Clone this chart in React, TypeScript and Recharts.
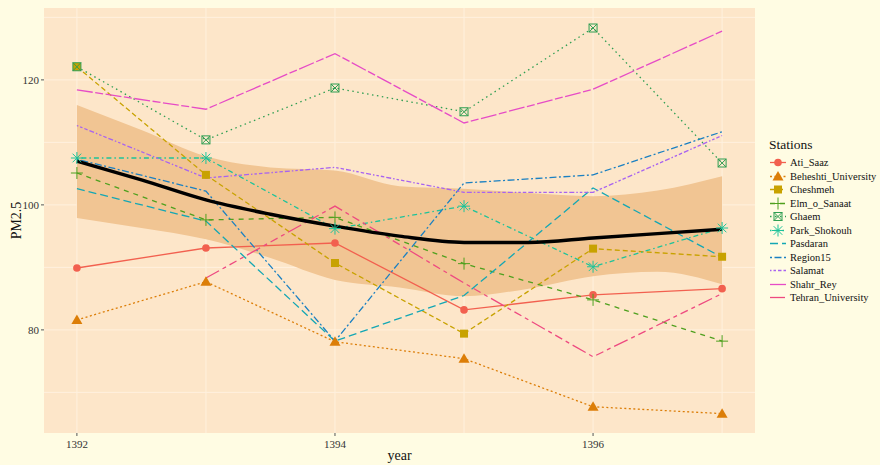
import React from "react";
import { ComposedChart, Line, Area, XAxis, YAxis, CartesianGrid } from "recharts";

const years = [1392, 1393, 1394, 1395, 1396, 1397];
const atiSaaz = [89.9, 93.1, 93.9, 83.2, 85.6, 86.6];
const beheshtiUniversity = [81.6, 87.7, 78.1, 75.4, 67.7, 66.6];
const cheshmeh = [122.1, 104.8, 90.7, 79.4, 93.0, 91.7];
const elmOSanaat = [105.1, 97.6, 98.0, 90.6, 84.8, 78.2];
const ghaem = [122.1, 110.4, 118.7, 114.9, 128.3, 106.7];
const parkShokouh = [107.5, 107.5, 96.2, 99.8, 90.1, 96.3];
const pasdaran = [102.6, 97.4, 78.2, 85.5, 102.7, 91.6];
const region15 = [107.3, 102.2, 78.2, 103.5, 104.8, 111.7];
const salamat = [112.7, 104.3, 106.0, 102.0, 102.0, 111.1];
const shahrRey = [118.4, 115.3, 124.2, 113.1, 118.5, 127.8];
const tehranUniversity = [null, 88.3, 99.8, 87.5, 75.7, 85.8];

const smoothYears = [1392, 1392.5, 1393, 1393.5, 1394, 1394.5, 1395, 1395.5, 1396, 1396.5, 1397];
const smoothFit = [107.0, 104.0, 100.8, 98.5, 96.6, 95.0, 94.0, 94.0, 94.7, 95.4, 96.1];
const smoothLower = [97.9, 96.3, 94.5, 91.5, 88.0, 86.8, 85.4, 86.6, 88.6, 89.3, 87.3];
const smoothUpper = [116.0, 112.0, 107.8, 106.0, 105.5, 103.0, 102.6, 101.9, 101.4, 102.3, 104.6];

const xTicks = [1392, 1394, 1396];
const yTicks = [80, 100, 120];
const xGrid = [1392, 1393, 1394, 1395, 1396, 1397];
const yGrid = [70, 80, 90, 100, 110, 120, 130];

const stations = [
  { name: "Ati_Saaz", values: atiSaaz, color: "#F2604F", dash: undefined, shape: "circle" },
  { name: "Beheshti_University", values: beheshtiUniversity, color: "#DC7E08", dash: "2 2.5", shape: "triangle" },
  { name: "Cheshmeh", values: cheshmeh, color: "#C8A200", dash: "5 3", shape: "square" },
  { name: "Elm_o_Sanaat", values: elmOSanaat, color: "#4FA01E", dash: "5 5", shape: "plus" },
  { name: "Ghaem", values: ghaem, color: "#2E9E52", dash: "1.5 3.5", shape: "squareX" },
  { name: "Park_Shokouh", values: parkShokouh, color: "#1DC39A", dash: "1.5 3 5 3", shape: "asterisk" },
  { name: "Pasdaran", values: pasdaran, color: "#14A7B4", dash: "8 4", shape: "none" },
  { name: "Region15", values: region15, color: "#1B80C2", dash: "2 2.5 7 2.5", shape: "none" },
  { name: "Salamat", values: salamat, color: "#A863F0", dash: "1.5 2 2.5 2 3.5 2 5 2", shape: "none" },
  { name: "Shahr_Rey", values: shahrRey, color: "#E64CC6", dash: "16 2.5 8 2.5", shape: "none" },
  { name: "Tehran_University", values: tehranUniversity, color: "#EE4A80", dash: "15 4 4 4 8 4 4 4", shape: "none" },
];

const stationData = years.map((year, i) => {
  const row: any = { year };
  stations.forEach((s) => {
    row[s.name] = s.values[i];
  });
  return row;
});

const smoothData = smoothYears.map((year, i) => ({
  year,
  fit: smoothFit[i],
  band: [smoothLower[i], smoothUpper[i]],
}));

function Marker({ shape, color, cx, cy }: { shape: string; color: string; cx: number; cy: number }) {
  if (shape === "circle") return <circle cx={cx} cy={cy} r={3.8} fill={color} />;
  if (shape === "triangle")
    return <polygon points={`${cx},${cy - 5.5} ${cx - 5.5},${cy + 4} ${cx + 5.5},${cy + 4}`} fill={color} />;
  if (shape === "square") return <rect x={cx - 4} y={cy - 4} width={8} height={8} fill={color} />;
  if (shape === "plus")
    return (
      <g stroke={color} strokeWidth={1}>
        <line x1={cx - 6} y1={cy} x2={cx + 6} y2={cy} />
        <line x1={cx} y1={cy - 6} x2={cx} y2={cy + 6} />
      </g>
    );
  if (shape === "squareX")
    return (
      <g stroke={color} strokeWidth={1} fill="none">
        <rect x={cx - 4} y={cy - 4} width={8} height={8} />
        <line x1={cx - 4} y1={cy - 4} x2={cx + 4} y2={cy + 4} />
        <line x1={cx - 4} y1={cy + 4} x2={cx + 4} y2={cy - 4} />
      </g>
    );
  if (shape === "asterisk")
    return (
      <g stroke={color} strokeWidth={1}>
        <line x1={cx - 6} y1={cy} x2={cx + 6} y2={cy} />
        <line x1={cx} y1={cy - 6} x2={cx} y2={cy + 6} />
        <line x1={cx - 4.3} y1={cy - 4.3} x2={cx + 4.3} y2={cy + 4.3} />
        <line x1={cx - 4.3} y1={cy + 4.3} x2={cx + 4.3} y2={cy - 4.3} />
      </g>
    );
  return null;
}

const makeDot = (shape: string, color: string) => (props: any) => {
  const { cx, cy, index, value } = props;
  if (shape === "none" || cy == null || value == null || isNaN(cy)) return <g key={`d-${index}`} />;
  return (
    <g key={`d-${index}`}>
      <Marker shape={shape} color={color} cx={cx} cy={cy} />
    </g>
  );
};

const serif = "'Liberation Serif', 'DejaVu Serif', serif";

function LegendBox() {
  return (
    <div style={{ position: "absolute", left: 769, top: 136, fontFamily: serif, color: "#111" }}>
      <div style={{ fontSize: 13.5, height: 20, lineHeight: "18px" }}>Stations</div>
      {stations.map((s) => (
        <div key={s.name} style={{ display: "flex", alignItems: "center", height: 13.5 }}>
          <svg width={18} height={13} style={{ display: "block" }}>
            <line x1={1} y1={6.5} x2={17} y2={6.5} stroke={s.color} strokeWidth={1.3} strokeDasharray={s.dash} />
            <Marker shape={s.shape} color={s.color} cx={9} cy={6.5} />
          </svg>
          <span style={{ fontSize: 10.5, marginLeft: 3, lineHeight: "13px" }}>{s.name}</span>
        </div>
      ))}
    </div>
  );
}

export default function App() {
  return (
    <div style={{ position: "absolute", left: 0, top: 0, width: 880, height: 465, background: "#FFFCE3", overflow: "hidden" }}>
      <ComposedChart width={880} height={465} margin={{ top: 8, right: 125, bottom: 0, left: 0 }}>
        <CartesianGrid
          fill="#FDE6C9"
          stroke="#FFF1DE"
          strokeWidth={1}
          horizontalValues={yGrid}
          verticalValues={xGrid}
        />
        <XAxis
          dataKey="year"
          type="number"
          domain={[1391.745, 1397.255]}
          ticks={xTicks}
          allowDataOverflow
          height={32}
          axisLine={false}
          tickSize={3}
          tickLine={{ stroke: "#555" }}
          tick={{ fontSize: 11, fill: "#333", fontFamily: serif, dy: 2 }}
          label={{ value: "year", position: "insideBottom", offset: 5, fontSize: 14, fill: "#111", fontFamily: serif }}
        />
        <YAxis
          type="number"
          domain={[63.5, 131.5]}
          ticks={yTicks}
          allowDataOverflow
          width={44}
          axisLine={false}
          tickSize={3}
          tickLine={{ stroke: "#555" }}
          tick={{ fontSize: 11, fill: "#333", fontFamily: serif }}
          label={{ value: "PM2.5", angle: -90, position: "insideLeft", offset: 16, fontSize: 14, fill: "#111", fontFamily: serif, style: { textAnchor: "middle" } }}
        />
        <Area
          data={smoothData}
          dataKey="band"
          type="monotone"
          fill="#F1C593"
          fillOpacity={1}
          stroke="none"
          isAnimationActive={false}
        />
        {stations.map((s) => (
          <Line
            key={s.name}
            data={stationData}
            dataKey={s.name}
            type="linear"
            stroke={s.color}
            strokeWidth={1.3}
            strokeDasharray={s.dash}
            dot={makeDot(s.shape, s.color)}
            activeDot={false}
            connectNulls={false}
            isAnimationActive={false}
          />
        ))}
        <Line
          data={smoothData}
          dataKey="fit"
          type="monotone"
          stroke="#000"
          strokeWidth={3.5}
          dot={false}
          activeDot={false}
          isAnimationActive={false}
        />
      </ComposedChart>
      <LegendBox />
    </div>
  );
}
